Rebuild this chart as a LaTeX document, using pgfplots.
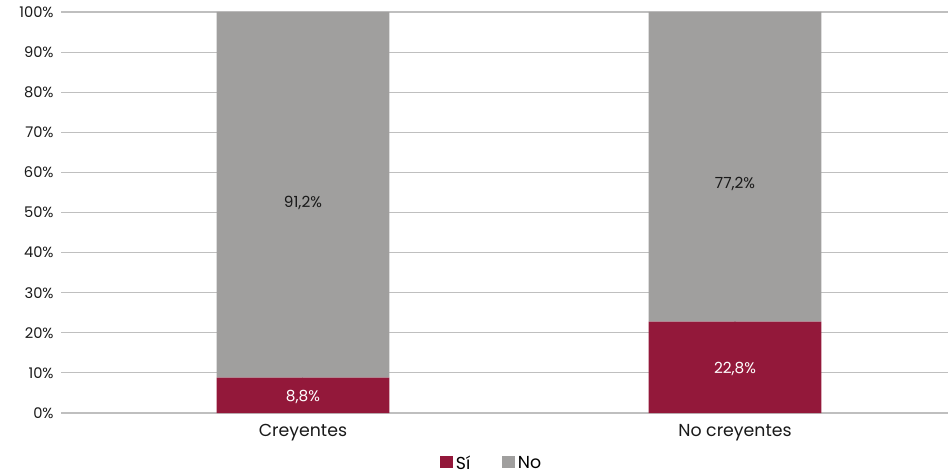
\documentclass[border=0pt]{standalone}
\usepackage{pgfplots}
\pgfplotsset{compat=1.18}
\usepackage{fontspec}
\setmainfont{Poppins}
\definecolor{si}{HTML}{93183A}
\definecolor{no}{HTML}{A09F9E}
\definecolor{grid}{HTML}{C0C0C0}
\begin{document}
\begin{tikzpicture}
\path[use as bounding box] (0pt,0pt) rectangle (711pt,356.25pt);
\begin{axis}[
  at={(45.75pt,46.5pt)}, anchor=south west,
  width=665.25pt, height=300.75pt, scale only axis,
  ybar stacked, bar width=0.4,
  xmin=-0.56, xmax=1.493,
  ymin=0, ymax=100,
  xtick={0,1}, xticklabels={Creyentes,No creyentes},
  ytick={0,10,...,100},
  yticklabel={\pgfmathprintnumber{\tick}\%},
  /pgf/number format/assume math mode=true,
  ymajorgrids, grid style={grid, line width=0.8pt},
  axis line style={draw=none},
  major tick length=0pt,
  tick label style={font=\fontsize{11}{13}\selectfont, text=black!90},
  yticklabel style={xshift=-2pt},
  xticklabel style={font=\fontsize{13}{15}\selectfont, yshift=-5pt},
  legend style={at={(0.486,-0.097)}, anchor=north, draw=none, fill=none,
    legend columns=2, font=\fontsize{13}{15}\selectfont, inner sep=1pt,
    /tikz/every odd column/.append style={column sep=0pt},
    /tikz/every even column/.append style={column sep=22pt}},
  legend image code/.code={\draw[#1, draw=none] (0cm,-0.12cm) rectangle (0.34cm,0.22cm);},
  clip=false,
]
\addplot[fill=si, draw=none] coordinates {(0,8.8) (1,22.8)};
\addplot[fill=no, draw=none] coordinates {(0,91.2) (1,77.2)};
\legend{Sí,No}
\coordinate (la) at (axis cs:0,4.0);
\coordinate (lb) at (axis cs:1,11.0);
\coordinate (lc) at (axis cs:0,52.4);
\coordinate (ld) at (axis cs:1,57.1);
\end{axis}
\node[font=\fontsize{11.5}{13}\selectfont, text=white] at (la) {8,8\%};
\node[font=\fontsize{11.5}{13}\selectfont, text=white] at (lb) {22,8\%};
\node[font=\fontsize{11.5}{13}\selectfont, text=black!90] at (lc) {91,2\%};
\node[font=\fontsize{11.5}{13}\selectfont, text=black!90] at (ld) {77,2\%};
\end{tikzpicture}
\end{document}
